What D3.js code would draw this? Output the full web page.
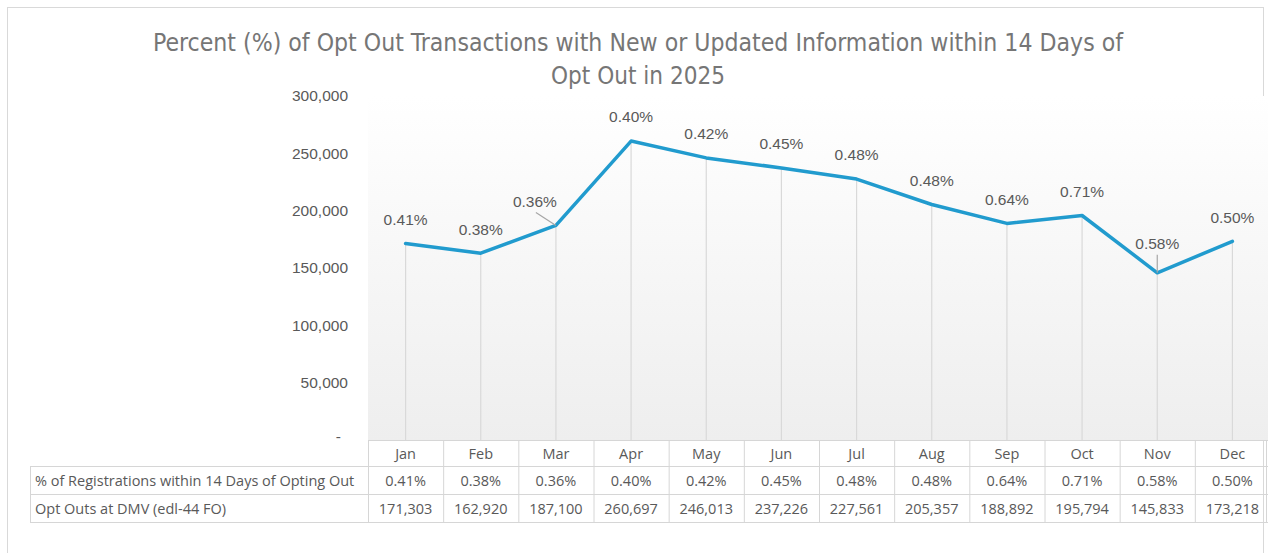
<!DOCTYPE html>
<html>
<head>
<meta charset="utf-8">
<script src="https://cdn.jsdelivr.net/npm/d3@7"></script>
<style>
  html, body { margin: 0; padding: 0; background: #ffffff; }
  svg { display: block; }
</style>
</head>
<body>
<svg id="chart" width="1268" height="553"></svg>
<script>
// ---- data ----
const months = ["Jan","Feb","Mar","Apr","May","Jun","Jul","Aug","Sep","Oct","Nov","Dec"];
const optOuts = [171303,162920,187100,260697,246013,237226,227561,205357,188892,195794,145833,173218];
const pctWithin14 = [0.41,0.38,0.36,0.40,0.42,0.45,0.48,0.48,0.64,0.71,0.58,0.50];
const yTicks = [0,50000,100000,150000,200000,250000,300000];
const titleLines = ["Percent (%) of Opt Out Transactions with New or Updated Information within 14 Days of", "Opt Out in 2025"];
const rowLabels = ["% of Registrations within 14 Days of Opting Out", "Opt Outs at DMV (edl-44 FO)"];

// ---- layout ----
const W = 1268, H = 553;
const plot = { left: 368, right: 1270, top: 96, bottom: 440 };
const rowH = [26, 28, 28];
const labelColLeft = 30;
const txt = "#595959";
const grid = "#d9d9d9";
const fontChart = "'Liberation Sans', Arial, sans-serif";
const fontTable = "'Open Sans', 'Liberation Sans', sans-serif";
const labelNudge = { Mar: { dx: -21, dy: 0, leader: true }, Nov: { dx: 0, dy: -5, leader: true } };

const svg = d3.select("#chart");

// outer border
svg.append("rect").attr("x", 7.5).attr("y", 7.5).attr("width", 1256).attr("height", 560)
  .attr("fill", "#fff").attr("stroke", grid).attr("stroke-width", 1);

const x = d3.scaleBand().domain(months).range([plot.left, plot.right]).padding(0);
const y = d3.scaleLinear().domain([0, 300000]).range([plot.bottom, plot.top]);

// gradient plot background
const defs = svg.append("defs");
const grad = defs.append("linearGradient").attr("id", "bg").attr("x1", 0).attr("y1", 0).attr("x2", 0).attr("y2", 1);
grad.append("stop").attr("offset", "0%").attr("stop-color", "#ffffff");
grad.append("stop").attr("offset", "100%").attr("stop-color", "#eeeeee");
svg.append("rect").attr("x", plot.left).attr("y", plot.top)
  .attr("width", plot.right - plot.left).attr("height", plot.bottom - plot.top)
  .attr("fill", "url(#bg)");

// title
const title = svg.append("g").attr("fill", "#767676")
  .style("font-family", "'Liberation Sans Narrow', 'DejaVu Sans Condensed', 'Liberation Sans', sans-serif")
  .style("font-size", "25px");
title.append("text").attr("x", 638).attr("y", 51).attr("text-anchor", "middle")
  .attr("textLength", 970).attr("lengthAdjust", "spacingAndGlyphs").text(titleLines[0]);
title.append("text").attr("x", 638).attr("y", 84).attr("text-anchor", "middle")
  .attr("textLength", 174).attr("lengthAdjust", "spacingAndGlyphs").text(titleLines[1]);

// y axis (no line, no ticks)
const yAxis = d3.axisLeft(y).tickValues(yTicks).tickSize(0).tickPadding(0)
  .tickFormat(d => d === 0 ? "-" : d3.format(",")(d));
const gy = svg.append("g").attr("transform", "translate(348,0)").call(yAxis);
gy.select(".domain").remove();
gy.selectAll("text").attr("fill", txt).style("font-family", fontChart).style("font-size", "15.5px")
  .attr("dx", d => d === 0 ? -7 : 0).attr("dy", d => d === 0 ? "0.1em" : "0.32em");

// drop lines
svg.append("g").selectAll("line").data(months).join("line")
  .attr("x1", d => x(d) + x.bandwidth() / 2).attr("x2", d => x(d) + x.bandwidth() / 2)
  .attr("y1", (d, i) => y(optOuts[i])).attr("y2", plot.bottom)
  .attr("stroke", grid).attr("stroke-width", 1.2);

// line
const line = d3.line().x((d, i) => x(months[i]) + x.bandwidth() / 2).y(d => y(d));
svg.append("path").datum(optOuts).attr("d", line)
  .attr("fill", "none").attr("stroke", "#219BCE").attr("stroke-width", 3.5)
  .attr("stroke-linejoin", "round").attr("stroke-linecap", "round");

// data labels
const lbl = svg.append("g").style("font-family", fontChart).style("font-size", "15.5px").attr("fill", txt);
months.forEach((m, i) => {
  const cx = x(m) + x.bandwidth() / 2, cy = y(optOuts[i]);
  const n = labelNudge[m] || { dx: 0, dy: 0 };
  const lx = cx + n.dx, ly = cy - 24 + n.dy; // label centre
  if (n.leader) {
    const sy = ly + 11;
    const sx = n.dx !== 0 ? lx + 1 : cx;
    svg.append("line").attr("x1", sx).attr("y1", sy).attr("x2", cx).attr("y2", cy)
      .attr("stroke", "#a6a6a6").attr("stroke-width", 1.2);
  }
  lbl.append("text").attr("x", lx).attr("y", ly).attr("dy", "0.35em").attr("text-anchor", "middle")
    .text(pctWithin14[i].toFixed(2) + "%");
});

// ---- data table ----
const tbl = svg.append("g");
const r0 = plot.bottom, r1 = r0 + rowH[0], r2 = r1 + rowH[1], r3 = r2 + rowH[2];
const bStroke = "#d6d6d6";
// horizontal lines
tbl.append("line").attr("x1", plot.left).attr("x2", plot.right).attr("y1", r0 + 0.5).attr("y2", r0 + 0.5).attr("stroke", bStroke);
[r1, r2, r3].forEach(yy => tbl.append("line").attr("x1", labelColLeft).attr("x2", plot.right)
  .attr("y1", yy + 0.5).attr("y2", yy + 0.5).attr("stroke", bStroke));
// vertical lines
tbl.append("line").attr("x1", labelColLeft + 0.5).attr("x2", labelColLeft + 0.5).attr("y1", r1).attr("y2", r3).attr("stroke", bStroke);
months.forEach(m => tbl.append("line").attr("x1", x(m) + 0.5).attr("x2", x(m) + 0.5)
  .attr("y1", r0).attr("y2", r3).attr("stroke", bStroke));
tbl.append("line").attr("x1", plot.right - 3.5).attr("x2", plot.right - 3.5).attr("y1", r0).attr("y2", r3).attr("stroke", bStroke);

const tt = tbl.append("g").style("font-family", fontTable).style("font-size", "14.5px").attr("fill", txt);
tt.selectAll(".mh").data(months).join("text").attr("class", "mh")
  .attr("x", d => x(d) + x.bandwidth() / 2).attr("y", (r0 + r1) / 2 + 1).attr("dy", "0.35em")
  .attr("text-anchor", "middle").text(d => d);
tt.selectAll(".pc").data(pctWithin14).join("text").attr("class", "pc")
  .attr("x", (d, i) => x(months[i]) + x.bandwidth() / 2).attr("y", (r1 + r2) / 2 + 1).attr("dy", "0.35em")
  .attr("text-anchor", "middle").text(d => d.toFixed(2) + "%");
tt.selectAll(".oo").data(optOuts).join("text").attr("class", "oo")
  .attr("x", (d, i) => x(months[i]) + x.bandwidth() / 2).attr("y", (r2 + r3) / 2 + 1).attr("dy", "0.35em")
  .attr("text-anchor", "middle").text(d => d3.format(",")(d));
tt.selectAll(".rl").data(rowLabels).join("text").attr("class", "rl")
  .attr("x", labelColLeft + 5).attr("y", (d, i) => i === 0 ? (r1 + r2) / 2 + 1 : (r2 + r3) / 2 + 1).attr("dy", "0.35em")
  .text(d => d);
</script>
</body>
</html>
